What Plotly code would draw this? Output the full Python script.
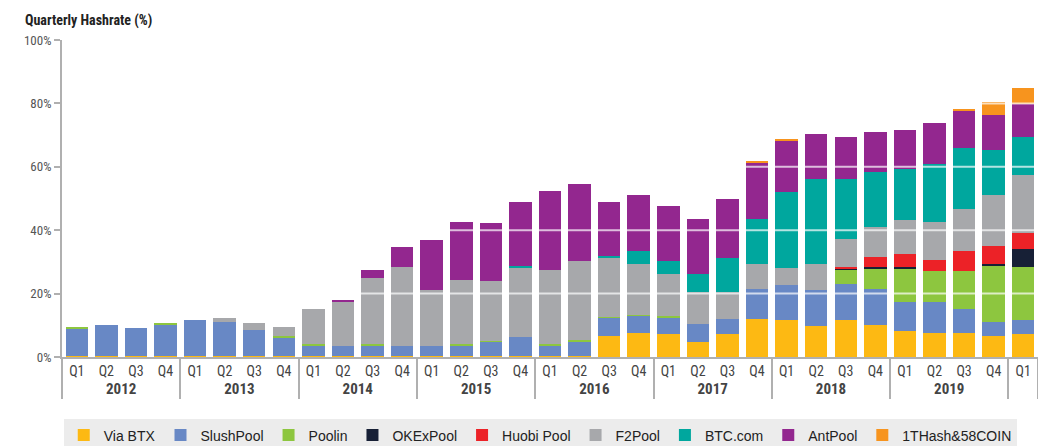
import plotly.graph_objects as go

years = ["2012"] * 4 + ["2013"] * 4 + ["2014"] * 4 + ["2015"] * 4 + ["2016"] * 4 + ["2017"] * 4 + ["2018"] * 4 + ["2019"] * 4 + [" "]
quarters = ["Q1", "Q2", "Q3", "Q4"] * 8 + ["Q1"]

via_btx = [0.3, 0.3, 0.3, 0.3, 0.3, 0.3, 0.3, 0.3, 0.3, 0.3, 0.3, 0.3, 0.3, 0.3, 0.3, 0.3,
           0.3, 0.4, 6.6, 7.6, 7.2, 4.8, 7.2, 12.0, 11.6, 9.8, 11.6, 10.2, 8.1, 7.7, 7.7, 6.7, 7.2]
slushpool = [8.7, 9.9, 8.7, 10.1, 11.3, 10.9, 8.2, 6.0, 3.4, 3.2, 3.4, 3.2, 3.2, 3.4, 4.6, 5.9,
             3.4, 4.5, 5.8, 5.5, 5.3, 5.5, 4.8, 9.3, 11.1, 11.2, 11.5, 11.1, 9.3, 9.7, 7.4, 4.4, 4.4]
poolin = [0.3, 0, 0, 0.3, 0, 0, 0, 0.3, 0.4, 0, 0.4, 0, 0, 0.4, 0.3, 0,
          0.4, 0.4, 0.2, 0.3, 0.3, 0, 0, 0, 0, 0, 4.4, 6.7, 10.6, 9.7, 12.0, 17.6, 16.8]
okexpool = [0] * 26 + [0.4, 0.5, 0.4, 0, 0, 0.7, 5.8]
huobi = [0] * 26 + [0.5, 3.2, 4.2, 3.6, 6.3, 5.7, 5.0]
f2pool = [0, 0, 0, 0, 0, 1.2, 2.2, 2.8, 11.2, 13.9, 20.9, 24.9, 17.7, 20.3, 18.7, 21.9,
          23.4, 24.9, 18.9, 16.0, 13.5, 10.1, 8.4, 8.0, 5.4, 8.3, 8.9, 9.2, 10.5, 12.0, 13.3, 16.0, 18.1]
btccom = [0] * 15 + [0.5, 0, 0, 0.5, 3.9, 3.9, 5.9, 10.8, 14.2, 24.0, 26.7, 18.7, 17.5, 16.1, 18.2, 19.1, 14.3, 12.1]
antpool = [0] * 9 + [0.5, 2.5, 6.3, 15.8, 18.3, 18.3, 20.3, 25.0, 24.5, 16.9, 17.9, 17.3, 17.3, 18.7, 17.9,
           16.2, 14.2, 13.4, 12.7, 12.4, 13.0, 12.0, 11.0, 10.3]
onethash = [0] * 23 + [0.4, 0.5, 0, 0, 0, 0, 0, 0.3, 4.0, 5.3]

series = [
    ("Via BTX", via_btx, "#FDB913"),
    ("SlushPool", slushpool, "#6888C5"),
    ("Poolin", poolin, "#8DC63F"),
    ("OKExPool", okexpool, "#172036"),
    ("Huobi Pool", huobi, "#EC2227"),
    ("F2Pool", f2pool, "#A7A8AB"),
    ("BTC.com", btccom, "#00A79E"),
    ("AntPool", antpool, "#93278F"),
    ("1THash&58COIN", onethash, "#F7941E"),
]

y_ticks = [0, 20, 40, 60, 80, 100]
y_ticklabels = ["0%", "20%", "40%", "60%", "80%", "100%"]

year_labels = ['<b><span style="font-size:15px">' + y + "</span></b>" if y.strip() else y for y in years]

fig = go.Figure()
for name, vals, color in series:
    fig.add_trace(go.Bar(
        x=[year_labels, quarters], y=vals, name=name,
        marker=dict(color=color, line=dict(width=0)),
    ))

cond = "Liberation Sans Narrow, Arial Narrow, Roboto Condensed, Arial, sans-serif"

fig.update_layout(
    barmode="stack",
    bargap=0.24,
    width=1038, height=446,
    margin=dict(l=62, r=0, t=40, b=89, autoexpand=False),
    plot_bgcolor="white", paper_bgcolor="white",
    title=dict(text="<b>Quarterly Hashrate (%)</b>", x=25 / 1038, xanchor="left",
               y=1 - 20 / 446, yanchor="middle", xref="container", yref="container",
               font=dict(family=cond, size=14, color="#222")),
    legend=dict(orientation="h", x=0.49, xanchor="center", y=-0.197, yanchor="top",
                bgcolor="#ececec", font=dict(family="Liberation Sans, Arial, sans-serif", size=14, color="#222"),
                traceorder="normal", itemwidth=30),
    showlegend=True,
)
fig.update_yaxes(range=[0, 100], tickvals=y_ticks, ticktext=y_ticklabels, showgrid=False,
                 showline=True, linecolor="#b0b0b0", linewidth=2, ticks="outside", ticklen=6,
                 tickcolor="#b0b0b0", tickwidth=2, zeroline=False, automargin=False,
                 tickfont=dict(family=cond, size=13, color="#555"))
fig.update_xaxes(showgrid=False, showline=True, linecolor="#b0b0b0", linewidth=2,
                 showdividers=True, dividercolor="#b0b0b0", dividerwidth=2, ticks="",
                 automargin=False,
                 tickfont=dict(family=cond, size=14, color="#444"))

for v in y_ticks[1:-1]:
    fig.add_shape(type="line", xref="paper", yref="y", x0=0, x1=1, y0=v, y1=v,
                  line=dict(color="white", width=2), opacity=0.7, layer="above")

fig.write_html("out.html", config={"displayModeBar": False},
               post_script="document.body.style.margin='0px';")
